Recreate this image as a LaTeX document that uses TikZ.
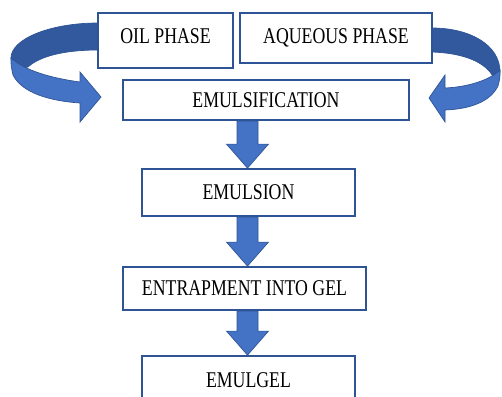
\documentclass[tikz,border=0pt]{standalone}
\usepackage{fontspec}
\newfontfamily\stagefont[FakeStretch=0.79]{Liberation Serif}
\usetikzlibrary{calc,backgrounds}
\definecolor{boxline}{RGB}{47,84,150}
\definecolor{arrowfill}{RGB}{68,114,196}
\definecolor{bandfill}{RGB}{50,88,158}
\tikzset{
  stage/.style={draw=boxline,line width=1.8pt,fill=white,inner sep=0pt,
    font=\stagefont\fontsize{22.5}{24}\selectfont},
  fatarrow/.style={fill=arrowfill,draw=boxline,line width=0.7pt,line join=miter},
  bandarrow/.style={fill=bandfill,draw=boxline,line width=0.7pt},
}
\begin{document}
\begin{tikzpicture}[x=1pt,y=-1pt]
    \path[use as bounding box,clip] (0,0) rectangle (502,396);
        % curved arrow, left
        \draw[bandarrow] (104,23) -- (98,23) .. controls (50,23) and (11,39) .. (11,58) -- (13,70) -- (28,67) .. controls (40,56) and (65,50) .. (98,50) -- (104,50) -- cycle;
        \draw[fatarrow] (11,58) .. controls (11,66) .. (13,75) .. controls (22,93) and (50,101) .. (80,103) -- (80,122) -- (101,97) -- (80,72) -- (80,82) .. controls (50,78) and (24,70) .. (11,58) -- cycle;
        % curved arrow, right
        \draw[bandarrow] (426,28) -- (432,28) .. controls (470,28) and (500,45) .. (500,72) -- (497,82) -- (490,72) .. controls (480,60) and (460,53) .. (432,52) -- (426,52) -- cycle;
        \draw[fatarrow] (500,70) .. controls (500,78) .. (498,86) .. controls (490,102) and (470,109) .. (445,110) -- (445,122) -- (429,98) -- (445,75) -- (445,88) .. controls (468,87) and (490,80) .. (500,70) -- cycle;

        \node[stage,minimum width=135pt,minimum height=55pt,text depth=9pt] (oil) at (165.5,40.5) {OIL PHASE};
        \node[stage,minimum width=192pt,minimum height=50pt] (aq) at (336,38) {AQUEOUS PHASE};
        \node[stage,minimum width=286pt,minimum height=40pt] (emf) at (266,100) {EMULSIFICATION};
        \node[stage,minimum width=213pt,minimum height=47pt] (ems) at (248.5,192.5) {EMULSION};
        \node[stage,minimum width=243pt,minimum height=43pt] (ent) at (244.5,288.5) {ENTRAPMENT INTO GEL};
        \node[stage,minimum width=213pt,minimum height=48pt] (egl) at (248.5,380) {EMULGEL};

        \coordinate (axis) at (247.5,0);
        \begin{scope}[on background layer]
        \foreach \a/\b in {emf/ems,ems/ent,ent/egl}{
          \coordinate (s) at (axis |- \a.south);
          \coordinate (t) at (axis |- \b.north);
          \draw[fatarrow] ($(s)+(-10.5,0)$) -- ($(t)+(-10.5,-24)$) -- ($(t)+(-21,-24)$) -- (t) -- ($(t)+(21,-24)$) -- ($(t)+(10.5,-24)$) -- ($(s)+(10.5,0)$) -- cycle;
          }
        \end{scope}
    \end{tikzpicture}
\end{document}
